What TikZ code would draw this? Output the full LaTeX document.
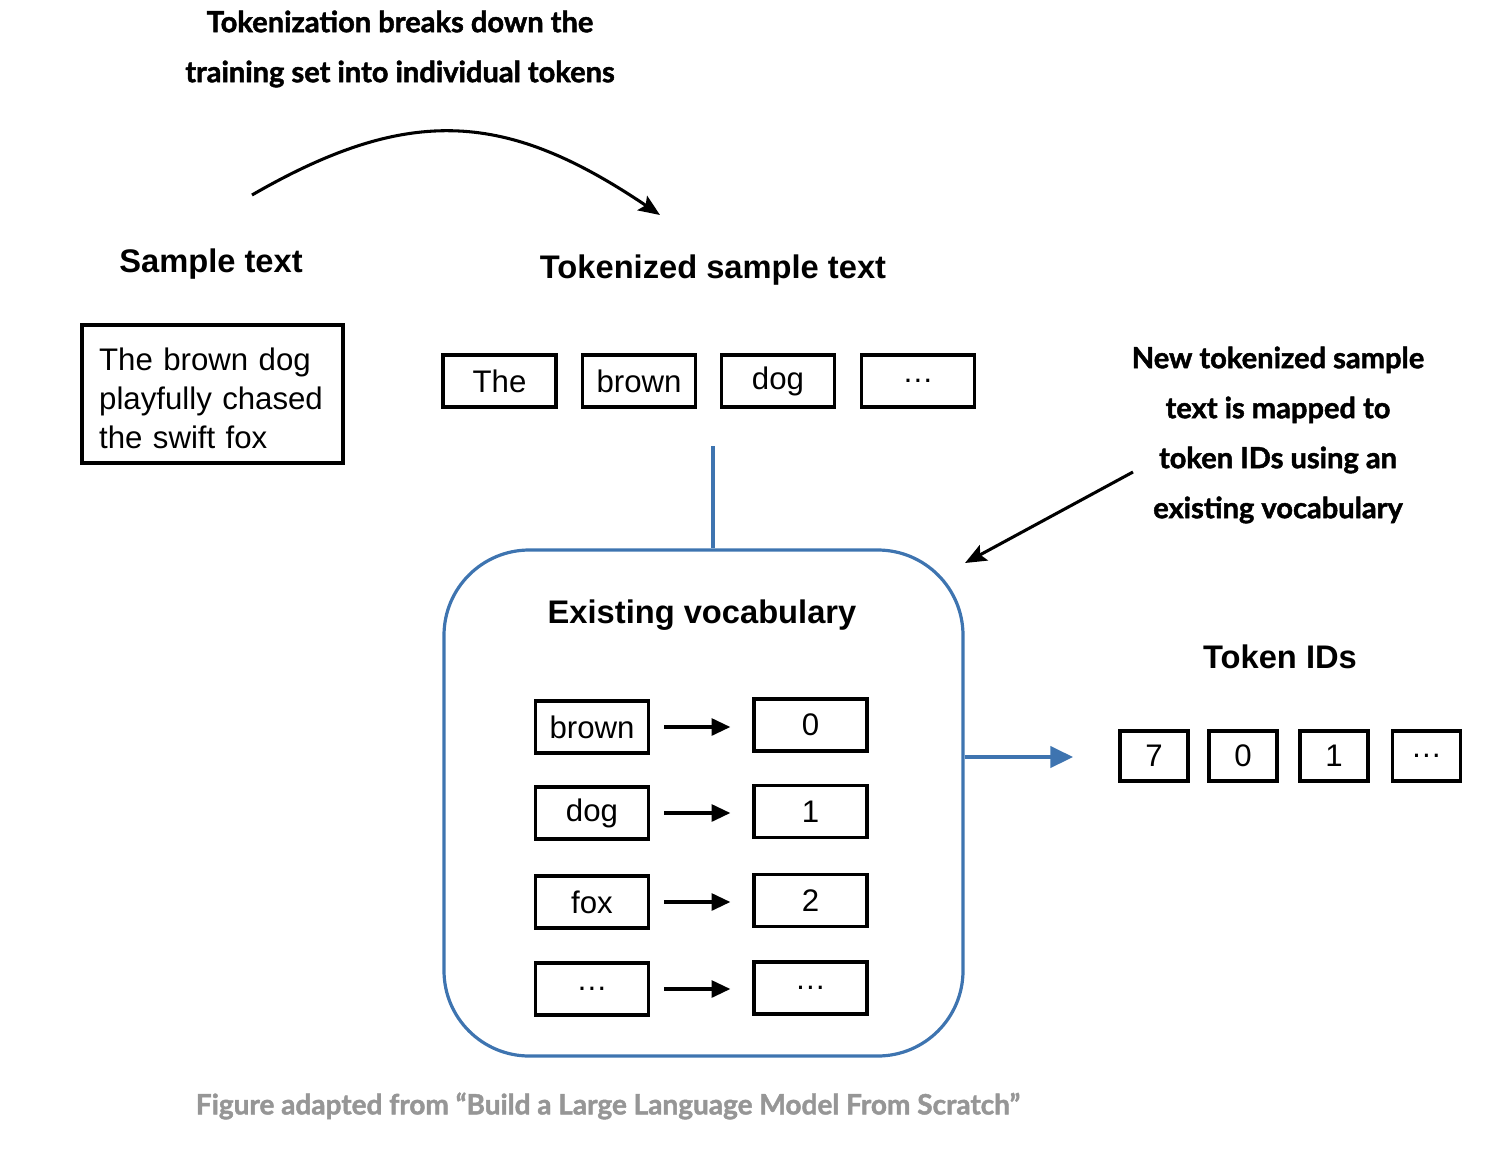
\documentclass[tikz,border=0pt]{standalone}
\usepackage{fontspec}
\setmainfont{Liberation Sans}
\newfontfamily\annot{Lato}[BoldFeatures={FakeBold=1.6}]
\usetikzlibrary{arrows.meta}
\definecolor{vblue}{RGB}{62,116,176}
\definecolor{capgray}{RGB}{150,150,150}
\begin{document}
\begin{tikzpicture}[x=0.75pt,y=-0.75pt,
  lbl/.style={font=\fontsize{23.4}{28}\selectfont},
  ttl/.style={font=\fontsize{24.5}{29}\selectfont\bfseries},
  note/.style={font=\fontsize{21.8}{37.5}\annot\bfseries,align=center},
  tok/.style={draw=black,line width=2.4pt,minimum width=84.75pt,minimum height=39pt,inner sep=0pt,lbl},
  idb/.style={draw=black,line width=2.4pt,minimum width=51pt,minimum height=37.5pt,inner sep=0pt,lbl},
  map/.style={line width=2.6pt,-{Triangle[length=14pt,width=12.5pt]}},
  blk/.style={line width=2.3pt,-{Stealth[length=16pt,width=13pt,inset=3pt]}}]
\useasboundingbox (0,0) rectangle (1486,1150);

% top annotation and curved arrow
\node[note] (topnote) at (400,49) {Tokenization breaks down the\\training set into individual tokens};
\coordinate (ca) at (252,195);
\coordinate (cb) at (660,215);
\draw[blk] (ca) to[out=30,in=146,looseness=1.15] (cb);

% sample text
\node[ttl] (samplet) at (211,264) {Sample text};
\node[draw=black,line width=2.4pt,minimum width=195.75pt,minimum height=103.5pt,inner sep=0pt] (sample) at (212.5,394) {};
\node[text width=170pt,inner sep=0pt,align=left,font=\fontsize{23.4}{29.25}\selectfont] (sampletxt) at ([yshift=-3pt]sample.center) {The brown dog\\playfully chased\\the swift fox};

% tokenized
\node[ttl] (tokt) at (713,270) {Tokenized sample text};
\node[tok] (t1) at (499.5,381) {The};
\node[tok] (t2) at (639,381) {brown};
\node[tok] (t3) at (778,381) {dog};
\node[tok] (t4) at (918,381) {\dots};

% vocabulary
\node[draw=vblue,line width=2.4pt,rounded corners=64pt,minimum width=389.25pt,minimum height=379.5pt,inner sep=0pt] (vocab) at (703.5,803) {};
\node[ttl] (vt) at (702,615) {Existing vocabulary};
\coordinate (tk) at (713,446);
\draw[vblue,line width=2.6pt] (tk) -- (tk |- vocab.north);

\node[tok] (l1) at (592,727) {brown};
\node[tok] (l2) at (592,813) {dog};
\node[tok] (l3) at (592,902) {fox};
\node[tok] (l4) at (592,989) {\dots};
\node[tok] (r1) at (810.5,725) {0};
\node[tok] (r2) at (810.5,811.5) {1};
\node[tok] (r3) at (810.5,900.5) {2};
\node[tok] (r4) at (810.5,988) {\dots};
\foreach \i in {1,2,3,4}{
  \draw[map] ([xshift=10.5pt]l\i.east) -- ([xshift=-16.5pt]l\i.east -| r\i.west);
}

% token IDs
\node[ttl] (idt) at (1280,657) {Token IDs};
\node[idb] (i1) at (1154,756) {7};
\node[idb] (i2) at (1243,756) {0};
\node[idb] (i3) at (1334,756) {1};
\node[idb] (i4) at (1426.5,756) {\dots};
\coordinate (ba) at (1073,757);
\draw[vblue,line width=2.6pt,-{Triangle[length=17pt,width=16pt]}] (ba -| vocab.east) -- (ba);

% right annotation
\node[note] (rnote) at (1278,435) {New tokenized sample\\text is mapped to\\token IDs using an\\existing vocabulary};
\coordinate (ra) at (1133,472);
\coordinate (rb) at (965,563);
\draw[blk] (ra) -- (rb);

% caption
\node[note,text=capgray,font=\fontsize{21}{26}\annot\bfseries] (cap) at (608,1106) {Figure adapted from “Build a Large Language Model From Scratch”};
\end{tikzpicture}
\end{document}
